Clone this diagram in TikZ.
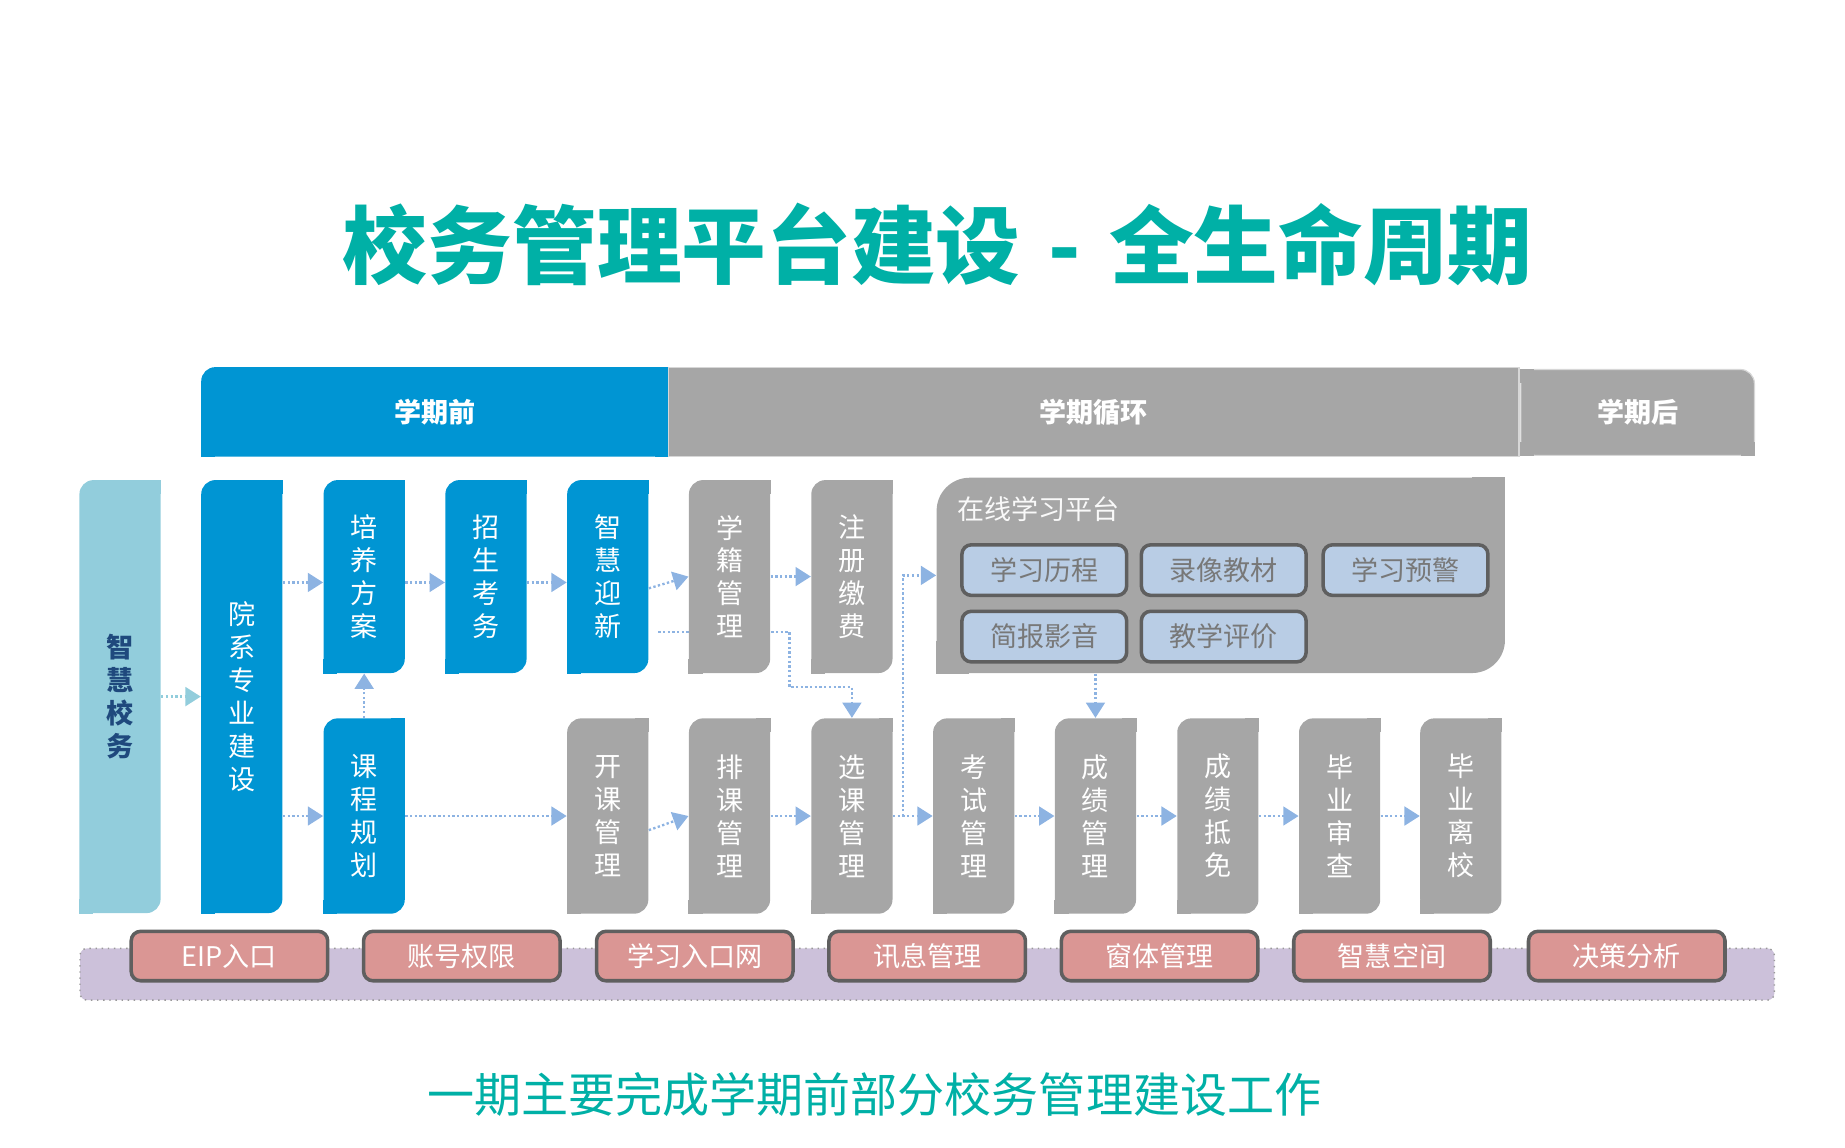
\documentclass[tikz,border=0pt]{standalone}
\usepackage{fontspec}
\setmainfont{Noto Sans CJK SC}
\usetikzlibrary{arrows.meta}
\pgfdeclarelayer{bg}
\pgfsetlayers{bg,main}
\definecolor{tealT}{RGB}{0,176,166}
\definecolor{blueB}{RGB}{0,149,211}
\definecolor{grayB}{RGB}{166,166,166}
\definecolor{ltblue}{RGB}{146,205,220}
\definecolor{navy}{RGB}{31,73,125}
\definecolor{subfill}{RGB}{185,205,229}
\definecolor{subline}{RGB}{95,95,95}
\definecolor{subtext}{RGB}{120,120,120}
\definecolor{stripc}{RGB}{204,193,218}
\definecolor{pinkc}{RGB}{218,150,148}
\definecolor{arrowc}{RGB}{141,179,226}
\definecolor{barline}{RGB}{215,215,215}
\newcommand\leafcorners[3]{%
  \fill[#2] (#1.north east) rectangle ++(-#3,#3);
  \fill[#2] (#1.south west) rectangle ++(#3,-#3);}
\begin{document}
\begin{tikzpicture}[x=0.5pt,y=-0.5pt,
  vbox/.style={inner sep=0pt, minimum width=34.5pt, text=white, align=center,
    rounded corners=6pt, font=\fontsize{11.5}{14}\selectfont},
  topbox/.style={vbox, minimum height=82pt},
  botbox/.style={vbox, minimum height=83pt},
  tallbox/.style={vbox, minimum height=184pt},
  bar/.style={inner sep=0pt, text=white, font=\fontsize{11.5}{14}\selectfont\bfseries},
  subbox/.style={draw=subline, line width=1.5pt, fill=subfill, rounded corners=4pt,
    minimum width=70pt, minimum height=21.5pt, inner sep=0pt, text=subtext,
    font=\fontsize{11.5}{14}\selectfont},
  pinkbox/.style={draw=subline, line width=1.5pt, fill=pinkc, rounded corners=4pt,
    minimum width=83.5pt, minimum height=21pt, inner sep=0pt, text=white,
    font=\fontsize{11.5}{14}\selectfont},
  arr/.style={color=arrowc, line width=1pt, dash pattern=on 1pt off 1pt,
    -{Triangle[length=6.5pt,width=8pt]}},
]
\useasboundingbox (0,0) rectangle (1568,975);

% title
\node[text=tealT, font=\fontsize{36}{40}\selectfont\bfseries] (title) at (797,207.5)
  {校务管理平台建设\hspace{0.33em}-\hspace{0.33em}全生命周期};

% header bars
\node[bar, fill=blueB, rounded corners=6pt, minimum width=198.5pt, minimum height=38pt] (pre) at (369.5,350) {};
\fill[blueB] (pre.north east) rectangle ++(-12,12);
\fill[blueB] (pre.south east) rectangle ++(-12,-12);
\fill[blueB] (pre.south west) rectangle ++(12,-12);
\node[bar] at (pre) {学期前};
\node[bar, fill=grayB, draw=barline, line width=0.5pt, minimum width=361.5pt, minimum height=38pt] (cyc) at (929.5,350) {学期循环};
\node[bar, fill=grayB, draw=barline, line width=0.5pt, rounded corners=6pt, minimum width=99.25pt, minimum height=36.5pt] (post) at (1391.75,350.5) {};
\fill[grayB] (post.north west) rectangle ++(12,12);
\fill[grayB] (post.south west) rectangle ++(12,-12);
\fill[grayB] (post.south east) rectangle ++(-12,-12);
\node[bar] at (post) {学期后};

% tall boxes
\node[tallbox, fill=ltblue, text=navy, font=\fontsize{11.5}{14}\selectfont\bfseries] (zhxw) at (102,592) {智\\慧\\校\\务};
\leafcorners{zhxw}{ltblue}{12}
\node[tallbox, fill=blueB] (yxzy) at (205.5,592) {院\\系\\专\\业\\建\\设};
\leafcorners{yxzy}{blueB}{12}

% top row
\node[topbox, fill=blueB] (pyfa) at (309.5,490) {培\\养\\方\\案};
\leafcorners{pyfa}{blueB}{12}
\node[topbox, fill=blueB] (zsks) at (413,490) {招\\生\\考\\务};
\leafcorners{zsks}{blueB}{12}
\node[topbox, fill=blueB] (zhyx) at (516.5,490) {智\\慧\\迎\\新};
\leafcorners{zhyx}{blueB}{12}
\node[topbox, fill=grayB] (xjgl) at (620,490) {学\\籍\\管\\理};
\leafcorners{xjgl}{grayB}{12}
\node[topbox, fill=grayB] (zcjf) at (724,490) {注\\册\\缴\\费};
\leafcorners{zcjf}{grayB}{12}

% online platform
\node[fill=grayB, rounded corners=14pt, minimum width=241.5pt, minimum height=83pt, inner sep=0pt] (plat) at (1037.5,489) {};
\leafcorners{plat}{grayB}{28}
\node[anchor=west, inner sep=0pt, text=white!95!gray, font=\fontsize{11.5}{14}\selectfont] (plattitle) at (813,433) {在线学习平台};
\node[subbox] (s1) at (887.5,484.5) {学习历程};
\node[subbox] (s2) at (1040,484.5) {录像教材};
\node[subbox] (s3) at (1194.5,484.5) {学习预警};
\node[subbox] (s4) at (887.5,541) {简报影音};
\node[subbox] (s5) at (1040,541) {教学评价};

% bottom row
\node[botbox, fill=blueB] (kcgh) at (309.5,693.5) {课\\程\\规\\划};
\leafcorners{kcgh}{blueB}{12}
\node[botbox, fill=grayB] (kkgl) at (516.5,693.5) {开\\课\\管\\理};
\leafcorners{kkgl}{grayB}{12}
\node[botbox, fill=grayB] (pkgl) at (620,693.5) {排\\课\\管\\理};
\leafcorners{pkgl}{grayB}{12}
\node[botbox, fill=grayB] (xkgl) at (724,693.5) {选\\课\\管\\理};
\leafcorners{xkgl}{grayB}{12}
\node[botbox, fill=grayB] (ksgl) at (827.5,693.5) {考\\试\\管\\理};
\leafcorners{ksgl}{grayB}{12}
\node[botbox, fill=grayB] (cjgl) at (931,693.5) {成\\绩\\管\\理};
\leafcorners{cjgl}{grayB}{12}
\node[botbox, fill=grayB] (cjdm) at (1035,693.5) {成\\绩\\抵\\免};
\leafcorners{cjdm}{grayB}{12}
\node[botbox, fill=grayB] (bysc) at (1138.5,693.5) {毕\\业\\审\\查};
\leafcorners{bysc}{grayB}{12}
\node[botbox, fill=grayB] (bylx) at (1241.5,693.5) {毕\\业\\离\\校};
\leafcorners{bylx}{grayB}{12}

% base strip
\node[draw=gray!80, dotted, line width=0.6pt, fill=stripc, rounded corners=3pt, minimum width=720pt, minimum height=22pt, inner sep=0pt] (base) at (788,828) {};
\node[pinkbox] (p1) at (195,812.5) {EIP入口};
\node[pinkbox] (p2) at (392.5,812.5) {账号权限};
\node[pinkbox] (p3) at (590.5,812.5) {学习入口网};
\node[pinkbox] (p4) at (788,812.5) {讯息管理};
\node[pinkbox] (p5) at (985.5,812.5) {窗体管理};
\node[pinkbox] (p6) at (1183,812.5) {智慧空间};
\node[pinkbox] (p7) at (1382.5,812.5) {决策分析};

% footer
\node[text=tealT, font=\fontsize{20}{24}\selectfont] (foot) at (743,930) {一期主要完成学期前部分校务管理建设工作};

% connectors
\draw[arr, color=ltblue] (zhxw.east) -- (yxzy.west);
\draw[arr] ([yshift=-2.5pt]yxzy.east |- pyfa.west) -- ([yshift=-2.5pt]pyfa.west);
\draw[arr] ([yshift=-2.5pt]pyfa.east) -- ([yshift=-2.5pt]zsks.west);
\draw[arr] ([yshift=-2.5pt]zsks.east) -- ([yshift=-2.5pt]zhyx.west);
\draw[arr] ([yshift=-5pt]zhyx.east) -- (xjgl.west);
\draw[arr] (xjgl.east) -- (zcjf.west);
\begin{pgfonlayer}{bg}
\draw[arr] ([shift={(8,47)}]zhyx.east) -| ([shift={(16,94)}]xjgl.east) -| (xkgl.north);
\end{pgfonlayer}
\coordinate (jn) at ([xshift=4.25pt]xkgl.east);
\draw[arr] (jn) |- (plat.west);
\draw[arr] (plat.south -| cjgl.north) -- (cjgl.north);
\draw[arr] (kcgh.north) -- (pyfa.south);
\draw[arr] (yxzy.east |- kcgh.west) -- (kcgh.west);
\draw[arr] (kcgh.east) -- (kkgl.west);
\draw[arr] ([yshift=-6pt]kkgl.east) -- (pkgl.west);
\draw[arr] (pkgl.east) -- (xkgl.west);
\draw[arr] (xkgl.east) -- (ksgl.west);
\draw[arr] (ksgl.east) -- (cjgl.west);
\draw[arr] (cjgl.east) -- (cjdm.west);
\draw[arr] (cjdm.east) -- (bysc.west);
\draw[arr] (bysc.east) -- (bylx.west);
\end{tikzpicture}
\end{document}
